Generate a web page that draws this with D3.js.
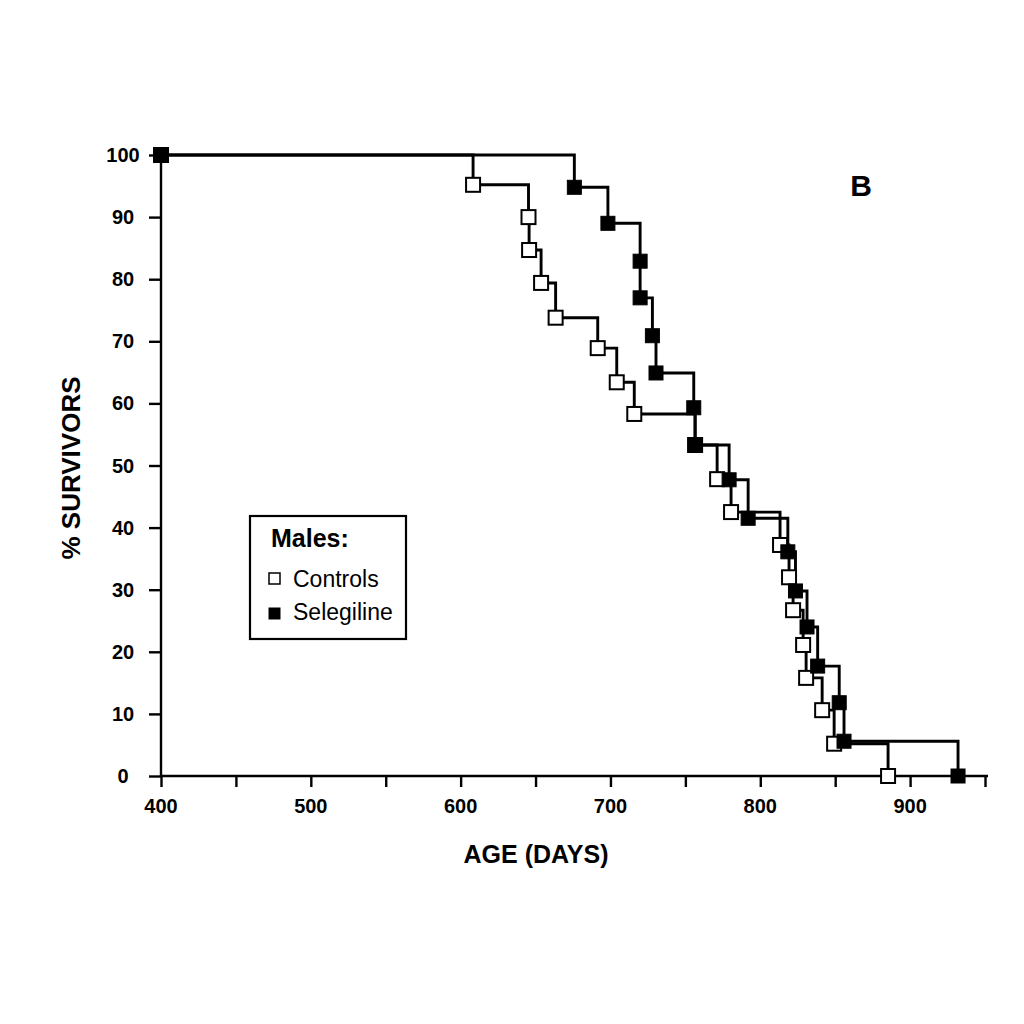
<!DOCTYPE html>
<html>
<head>
<meta charset="utf-8">
<script src="https://cdn.jsdelivr.net/npm/d3@7"></script>
<style>
  html, body { margin: 0; padding: 0; background: #fff; }
  svg { display: block; }
  text { font-family: "Liberation Sans", Arial, Helvetica, sans-serif; fill: #000; }
</style>
</head>
<body>
<svg id="chart" width="1024" height="1024"></svg>
<script>
// ---- data ----
const controlDays     = [400, 608.3, 645.3, 645.7, 653.7, 663.4, 691.5, 704.2, 715.9, 756.5, 771.2, 780.5, 813.2, 819.2, 821.9, 828.6, 830.6, 841.3, 849.3, 885.3];
const controlSurvival = [100, 95.2, 90.0, 84.7, 79.4, 73.8, 68.9, 63.4, 58.3, 53.3, 47.8, 42.5, 37.2, 32.0, 26.7, 21.1, 15.8, 10.6, 5.2, 0];
const seleDays        = [400, 675.9, 698.3, 719.8, 719.8, 728.0, 730.4, 755.6, 756.5, 779.2, 791.9, 818.4, 823.5, 831.2, 838.3, 852.7, 855.9, 932.0];
const seleSurvival    = [100, 94.8, 89.0, 82.9, 77.0, 70.9, 64.9, 59.3, 53.3, 47.7, 41.5, 36.1, 29.8, 24.0, 17.7, 11.8, 5.6, 0];
const xTickValues  = [400, 450, 500, 550, 600, 650, 700, 750, 800, 850, 900, 950];
const xTickLabels  = [400, 500, 600, 700, 800, 900];
const yTickValues  = [0, 10, 20, 30, 40, 50, 60, 70, 80, 90, 100];
const legendTitle  = "Males:";
const seriesNames  = ["Controls", "Selegiline"];

// ---- layout ----
const svg = d3.select("#chart");
const x = d3.scaleLinear().domain([400, 952]).range([161, 988]);
const y = d3.scaleLinear().domain([0, 100]).range([776, 155]);

const controls = controlDays.map((d, i) => ({ t: d, s: controlSurvival[i] }));
const sele = seleDays.map((d, i) => ({ t: d, s: seleSurvival[i] }));

// axes
const xAxis = svg.append("g").attr("transform", `translate(0,${y(0)})`)
  .call(d3.axisBottom(x).tickValues(xTickValues).tickSize(11).tickFormat(""));
xAxis.select(".domain").attr("stroke", "#000").attr("stroke-width", 2.4).attr("d", `M${x(400)},0H${x(952)}`);
xAxis.selectAll(".tick line").attr("stroke", "#000").attr("stroke-width", 2.4);

svg.append("g").selectAll("text").data(xTickLabels).join("text")
  .attr("x", d => x(d)).attr("y", 813)
  .attr("text-anchor", "middle")
  .style("font-size", "20px").style("font-weight", "bold")
  .text(d => d);

const yAxis = svg.append("g").attr("transform", `translate(${x(400)},0)`)
  .call(d3.axisLeft(y).tickValues(yTickValues).tickSize(12).tickFormat(""));
yAxis.select(".domain").attr("stroke", "#000").attr("stroke-width", 2.4).attr("d", `M0,${y(0)}V${y(100)}`);
yAxis.selectAll(".tick line").attr("stroke", "#000").attr("stroke-width", 2.4);

svg.append("g").selectAll("text").data(yTickValues).join("text")
  .attr("x", 123).attr("y", d => y(d) + 7)
  .attr("text-anchor", "middle")
  .style("font-size", "20px").style("font-weight", "bold")
  .text(d => d);

// axis titles
svg.append("text").attr("x", 536).attr("y", 863).attr("text-anchor", "middle")
  .style("font-size", "25px").style("font-weight", "bold").text("AGE (DAYS)");
svg.append("text").attr("transform", "translate(80,468) rotate(-90)").attr("text-anchor", "middle")
  .style("font-size", "26px").style("font-weight", "bold").text("% SURVIVORS");

// panel letter
svg.append("text").attr("x", 861).attr("y", 196).attr("text-anchor", "middle")
  .style("font-size", "30px").style("font-weight", "bold").text("B");

// survival step lines
const line = d3.line().x(d => x(d.t)).y(d => y(d.s)).curve(d3.curveStepAfter);
svg.append("path").datum(controls).attr("d", line)
  .attr("fill", "none").attr("stroke", "#000").attr("stroke-width", 2.9);
svg.append("path").datum(sele).attr("d", line)
  .attr("fill", "none").attr("stroke", "#000").attr("stroke-width", 2.9);

// markers
const ms = 14;
svg.append("g").selectAll("rect").data(controls).join("rect")
  .attr("x", d => x(d.t) - ms / 2).attr("y", d => y(d.s) - ms / 2)
  .attr("width", ms).attr("height", ms)
  .attr("fill", "#fff").attr("stroke", "#000").attr("stroke-width", 2);
svg.append("g").selectAll("rect").data(sele).join("rect")
  .attr("x", d => x(d.t) - ms / 2).attr("y", d => y(d.s) - ms / 2)
  .attr("width", ms).attr("height", ms)
  .attr("fill", "#000").attr("stroke", "#000").attr("stroke-width", 1);

// legend
const lg = svg.append("g");
lg.append("rect").attr("x", 250).attr("y", 516).attr("width", 156).attr("height", 123)
  .attr("fill", "#fff").attr("stroke", "#000").attr("stroke-width", 2.2);
lg.append("text").attr("x", 271).attr("y", 547)
  .style("font-size", "25px").style("font-weight", "bold").text(legendTitle);
lg.append("rect").attr("x", 269).attr("y", 573).attr("width", 11).attr("height", 11)
  .attr("fill", "#fff").attr("stroke", "#000").attr("stroke-width", 1.5);
lg.append("text").attr("x", 293).attr("y", 587)
  .style("font-size", "23px").text(seriesNames[0]);
lg.append("rect").attr("x", 268.5).attr("y", 607.5).attr("width", 12).attr("height", 12)
  .attr("fill", "#000");
lg.append("text").attr("x", 293).attr("y", 620)
  .style("font-size", "23px").text(seriesNames[1]);
</script>
</body>
</html>
